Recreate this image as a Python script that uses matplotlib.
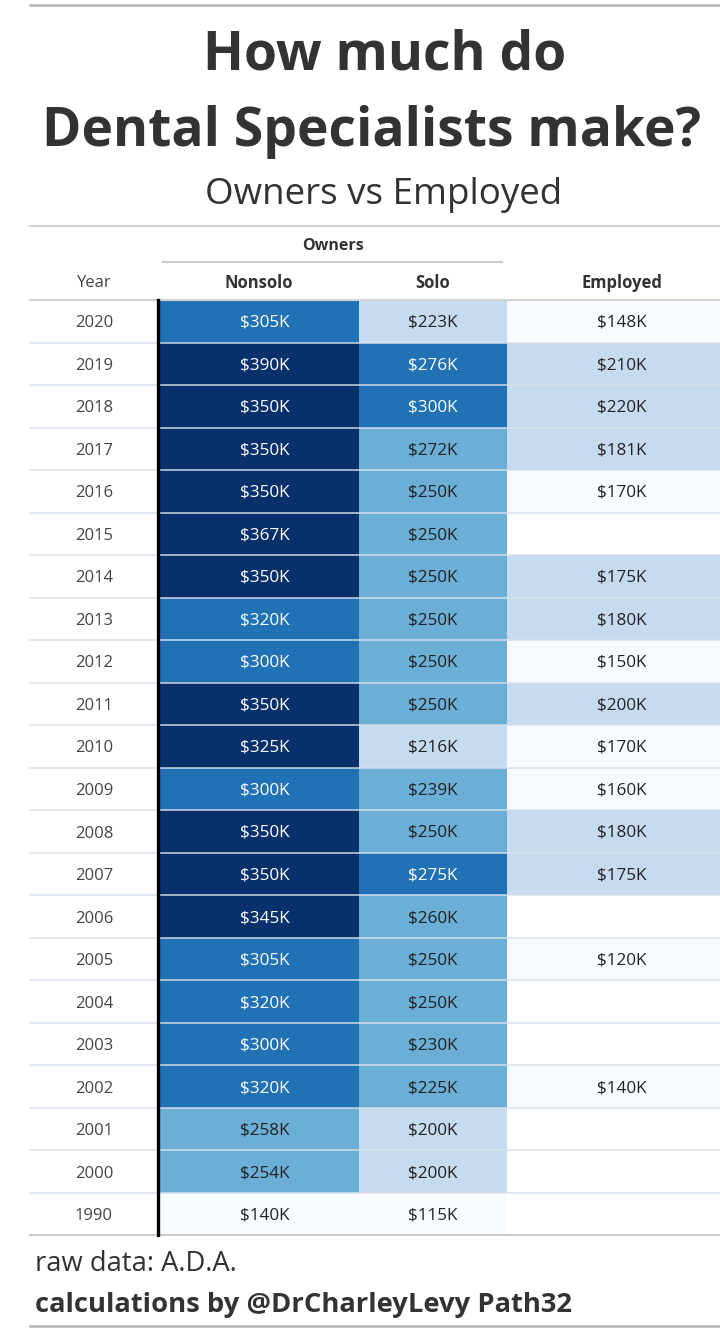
import numpy as np
import matplotlib.pyplot as plt
from matplotlib.colors import ListedColormap, BoundaryNorm

# Dados (em milhares de dólares)
years = [2020, 2019, 2018, 2017, 2016, 2015, 2014, 2013, 2012, 2011, 2010,
         2009, 2008, 2007, 2006, 2005, 2004, 2003, 2002, 2001, 2000, 1990]
nonsolo = [305, 390, 350, 350, 350, 367, 350, 320, 300, 350, 325,
           300, 350, 350, 345, 305, 320, 300, 320, 258, 254, 140]
solo = [223, 276, 300, 272, 250, 250, 250, 250, 250, 250, 216,
        239, 250, 275, 260, 250, 250, 230, 225, 200, 200, 115]
employed = [148, 210, 220, 181, 170, np.nan, 175, 180, 150, 200, 170,
            160, 180, 175, np.nan, 120, np.nan, np.nan, 140, np.nan, np.nan, np.nan]
columns = ['Nonsolo', 'Solo', 'Employed']

bins = [0, 175, 225, 275, 325, 1000]
cmap = ListedColormap(['#f7fbff', '#c6dbef', '#6baed6', '#2171b5', '#08306b'])
cmap.set_bad('white')
norm = BoundaryNorm(bins, cmap.N)

# Layout em pixels
fig = plt.figure(figsize=(7.2, 13.31), dpi=100)
ax = fig.add_axes([0, 0, 1, 1])
ax.set_xlim(0, 720)
ax.set_ylim(1331, 0)
ax.axis('off')

font = 'Open Sans'
dark = '#333333'

top, row_h = 300, 42.52
n = len(years)
y_edges = top + np.arange(n + 1) * row_h
y_mid = (y_edges[:-1] + y_edges[1:]) / 2
x_edges = [160, 359, 507, 740]
x_text = [265, 433, 622]

vals = np.ma.masked_invalid(np.array([nonsolo, solo, employed], dtype=float).T)
ax.pcolormesh(x_edges, y_edges, vals, cmap=cmap, norm=norm, zorder=1)

for j, col in enumerate([nonsolo, solo, employed]):
    for i, v in enumerate(col):
        if np.isnan(v):
            continue
        c = 'white' if v >= 275 else '#222222'
        ax.text(x_text[j], y_mid[i] + 1.5, f'${int(v)}K', ha='center', va='center',
                fontsize=12.3, color=c, family=font, zorder=4)

for i, yr in enumerate(years):
    ax.text(94, y_mid[i] + 2, str(yr), ha='center', va='center', fontsize=12,
            color='#444444', family=font)

# separadores de linha
for y in y_edges[1:-1]:
    ax.plot([30, 720], [y, y], color='#d8e0ea', lw=1.3, alpha=0.8, zorder=3)

ax.plot([30, 720], [y_edges[-1], y_edges[-1]], color='#cccccc', lw=1.5, zorder=3)
ax.plot([30, 720], [top, top], color='#d3d3d3', lw=1.5, zorder=3)
ax.plot([158, 158], [top, y_edges[-1]], color='black', lw=2.4, zorder=5)

# cabeçalho
ax.text(333, 246, 'Owners', ha='center', va='center', fontsize=11.5,
        fontweight='bold', color=dark, family=font)
ax.plot([163, 502], [262, 262], color='#cccccc', lw=1.5)
ax.text(94, 283, 'Year', ha='center', va='center', fontsize=12,
        color='#444444', family=font)
for x, name in zip([259, 433, 622], columns):
    ax.text(x, 283, name, ha='center', va='center',
            fontsize=12, fontweight='bold', color=dark, family=font)

# títulos
ax.plot([30, 720], [5, 5], color='#b5b5b5', lw=1.8)
ax.text(385, 55, 'How much do', ha='center', va='center', fontsize=38.5,
        fontweight='bold', color=dark, family=font)
ax.text(372, 132, 'Dental Specialists make?', ha='center', va='center',
        fontsize=38.5, fontweight='bold', color=dark, family=font)
ax.text(384, 195, 'Owners vs Employed', ha='center', va='center', fontsize=26.5,
        color=dark, family=font)
ax.plot([30, 720], [226, 226], color='#d3d3d3', lw=1.5)

# rodapé
ax.text(35, 1264, 'raw data: A.D.A.', ha='left', va='center', fontsize=19.7,
        color=dark, family=font)
ax.text(35, 1305, 'calculations by @DrCharleyLevy Path32', ha='left', va='center',
        fontsize=19.7, fontweight='bold', color=dark, family=font)
ax.plot([30, 720], [1326, 1326], color='#b5b5b5', lw=1.8)

fig.savefig('out.png', dpi=100)
